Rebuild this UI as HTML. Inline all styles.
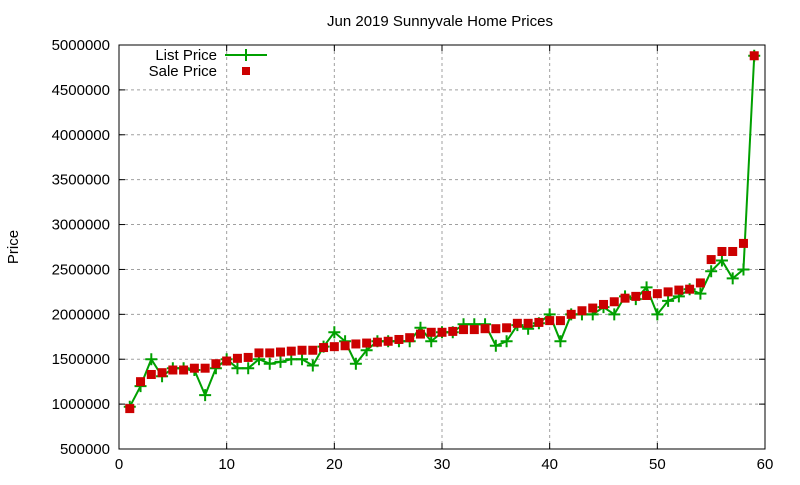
<!DOCTYPE html>
<html><head><meta charset="utf-8"><style>
body{margin:0;background:#fff}
svg{font-family:"Liberation Sans",sans-serif;font-size:15px}
</style></head><body>
<svg id="chart" width="800" height="480">
<text x="440" y="26" text-anchor="middle">Jun 2019 Sunnyvale Home Prices</text>
<text transform="translate(18,247) rotate(-90)" text-anchor="middle">Price</text>
<g id="grid"></g><g id="axes"></g><g id="series"></g>
<g>
<text x="217" y="60" text-anchor="end">List Price</text>
<line x1="225" y1="55" x2="267" y2="55" stroke="#00a000" stroke-width="2"/>
<path d="M240 55h12M246 49v12" stroke="#00a000" stroke-width="2"/>
<text x="217" y="76" text-anchor="end">Sale Price</text>
<rect x="242" y="67" width="8" height="8" fill="#cc0000"/>
</g>
</svg>
<script>
const xTicks=[0,10,20,30,40,50,60];
const yTicks=[500000,1000000,1500000,2000000,2500000,3000000,3500000,4000000,4500000,5000000];
const listPrice=[970000,1200000,1500000,1310000,1400000,1400000,1380000,1100000,1400000,1500000,1400000,1400000,1500000,1450000,1470000,1500000,1500000,1430000,1640000,1800000,1700000,1450000,1600000,1700000,1700000,1700000,1700000,1850000,1700000,1800000,1800000,1890000,1890000,1890000,1650000,1700000,1880000,1840000,1900000,2000000,1700000,2000000,2000000,2000000,2080000,2000000,2200000,2170000,2300000,2000000,2150000,2200000,2280000,2230000,2480000,2600000,2400000,2500000,4880000];
const salePrice=[950000,1250000,1330000,1350000,1380000,1380000,1400000,1400000,1450000,1480000,1510000,1520000,1570000,1570000,1580000,1590000,1600000,1600000,1630000,1640000,1650000,1670000,1680000,1690000,1700000,1720000,1740000,1780000,1800000,1800000,1810000,1830000,1830000,1840000,1840000,1850000,1900000,1900000,1910000,1930000,1930000,2000000,2040000,2070000,2110000,2140000,2180000,2200000,2210000,2230000,2250000,2270000,2280000,2350000,2610000,2700000,2700000,2790000,4880000];
const L=119,R=765,T=45,B=449;
const sx=v=>L+(v-0)/(60-0)*(R-L);
const sy=v=>B-(v-500000)/(5000000-500000)*(B-T);
const NS="http://www.w3.org/2000/svg";
function mk(p,t,a){const e=document.createElementNS(NS,t);for(const k in a)e.setAttribute(k,a[k]);document.getElementById(p).appendChild(e);return e;}
xTicks.forEach(v=>{
 const x=sx(v);
 if(v>0&&v<60){const g=mk('grid','line',{x1:x,x2:x,y1:T,y2:B,stroke:'#a0a0a0','stroke-dasharray':'3,3'});
 
 }
 mk('axes','line',{x1:x,x2:x,y1:B,y2:B-6,stroke:'#000'});
 mk('axes','line',{x1:x,x2:x,y1:T,y2:T+6,stroke:'#000'});
 const t=mk('axes','text',{x:x,y:B+20,'text-anchor':'middle'});t.textContent=v;
 
 
});
yTicks.forEach(v=>{
 const y=sy(v);
 if(v>500000&&v<5000000){const g=mk('grid','line',{x1:L,x2:R,y1:y,y2:y,stroke:'#a0a0a0','stroke-dasharray':'3,3'});
 
 }
 mk('axes','line',{x1:L,x2:L+6,y1:y,y2:y,stroke:'#000'});
 mk('axes','line',{x1:R,x2:R-6,y1:y,y2:y,stroke:'#000'});
 const t=mk('axes','text',{x:L-9,y:y+5,'text-anchor':'end'});t.textContent=v;
 
 
});
const box=mk('axes','rect',{x:L,y:T,width:R-L,height:B-T,fill:'none',stroke:'#000'});


const pts=listPrice.map((v,i)=>sx(i+1)+','+sy(v)).join(' ');
const line=mk('series','polyline',{points:pts,fill:'none',stroke:'#00a000','stroke-width':2});


listPrice.forEach((v,i)=>{const x=sx(i+1),y=sy(v);
 const p=mk('series','path',{d:`M${x-6} ${y}h12M${x} ${y-6}v12`,stroke:'#00a000','stroke-width':2});
 
 
});
salePrice.forEach((v,i)=>{const x=sx(i+1),y=sy(v);
 const r=mk('series','rect',{x:x-4.5,y:y-4.5,width:9,height:9,fill:'#cc0000'});
 
 
});
</script>
</body></html>
